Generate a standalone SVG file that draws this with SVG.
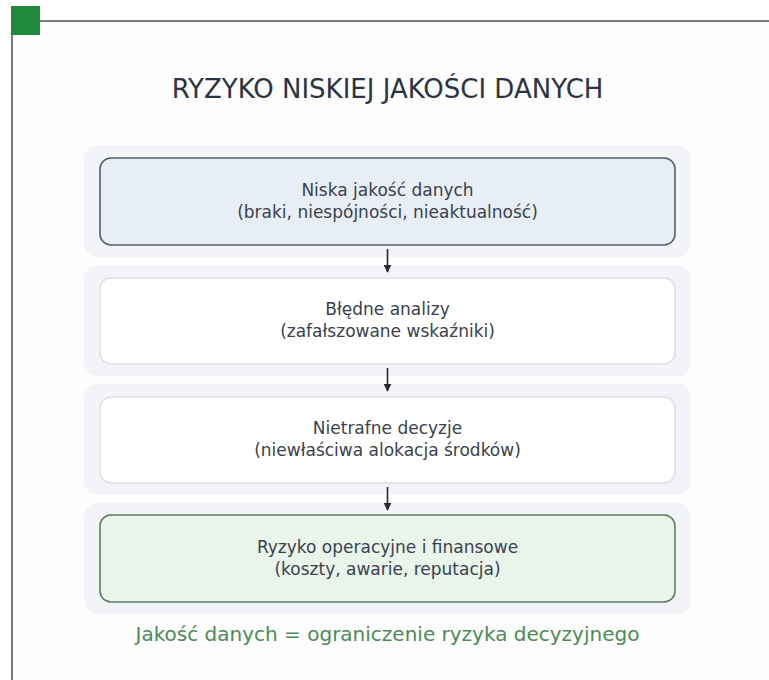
<svg xmlns="http://www.w3.org/2000/svg" width="769" height="680" viewBox="0 0 769 680">
<defs>
<style>
.halo{fill:#f2f4f7;stroke:none}
.box{stroke-width:1.6}
.t{font-family:"DejaVu Sans",sans-serif;font-size:17px;fill:#3a4150;text-anchor:middle}
.conn{stroke:#2a2a2a;stroke-width:1.6;fill:none}
</style>
<marker id="ah" viewBox="0 0 10 10" refX="9" refY="5" markerWidth="5" markerHeight="5" orient="auto" markerUnits="strokeWidth">
<path d="M0,0 L10,5 L0,10 Z" fill="#2a2a2a"/>
</marker>
</defs>
<rect x="0" y="0" width="769" height="680" fill="#ffffff"/>
<rect x="13" y="22" width="756" height="658" fill="#fdfdfd"/>
<g id="frame">
<line x1="40" y1="21" x2="769" y2="21" stroke="#7a7a7a" stroke-width="2"/>
<line x1="12" y1="34" x2="12" y2="680" stroke="#7a7a7a" stroke-width="2"/>
<rect x="11" y="6" width="29" height="29" fill="#1f8a3b"/>
</g>
<text x="387.5" y="98" font-family="DejaVu Sans, sans-serif" font-size="26" fill="#2b3444" text-anchor="middle">RYZYKO NISKIEJ JAKOŚCI DANYCH</text>
<g id="n1">
<rect class="halo" x="84" y="145" width="607" height="112" rx="14"/>
<rect class="box" x="100" y="158" width="575" height="87" rx="11" fill="#e8eef5" stroke="#56606c"/>
<text class="t" x="387.5" y="196">Niska jakość danych</text>
<text class="t" x="387.5" y="218">(braki, niespójności, nieaktualność)</text>
</g>
<g id="n2">
<rect class="halo" x="84" y="265" width="607" height="111" rx="14"/>
<rect class="box" x="100" y="278" width="575" height="86" rx="11" fill="#ffffff" stroke="#dde1e6"/>
<text class="t" x="387.5" y="315">Błędne analizy</text>
<text class="t" x="387.5" y="337">(zafałszowane wskaźniki)</text>
</g>
<g id="n3">
<rect class="halo" x="84" y="384" width="607" height="111" rx="14"/>
<rect class="box" x="100" y="397" width="575" height="86" rx="11" fill="#ffffff" stroke="#dde1e6"/>
<text class="t" x="387.5" y="434">Nietrafne decyzje</text>
<text class="t" x="387.5" y="456">(niewłaściwa alokacja środków)</text>
</g>
<g id="n4">
<rect class="halo" x="84" y="503" width="607" height="111" rx="14"/>
<rect class="box" x="100" y="515" width="575" height="87" rx="11" fill="#e9f4eb" stroke="#5f7d66"/>
<text class="t" x="387.5" y="553">Ryzyko operacyjne i finansowe</text>
<text class="t" x="387.5" y="575">(koszty, awarie, reputacja)</text>
</g>
<g id="connectors">
<line class="conn" x1="387.5" y1="249" x2="387.5" y2="272" marker-end="url(#ah)"/>
<line class="conn" x1="387.5" y1="368" x2="387.5" y2="391" marker-end="url(#ah)"/>
<line class="conn" x1="387.5" y1="487" x2="387.5" y2="510" marker-end="url(#ah)"/>
</g>
<text x="387.5" y="641" font-family="DejaVu Sans, sans-serif" font-size="20" fill="#4c8a58" text-anchor="middle">Jakość danych = ograniczenie ryzyka decyzyjnego</text>
</svg>
